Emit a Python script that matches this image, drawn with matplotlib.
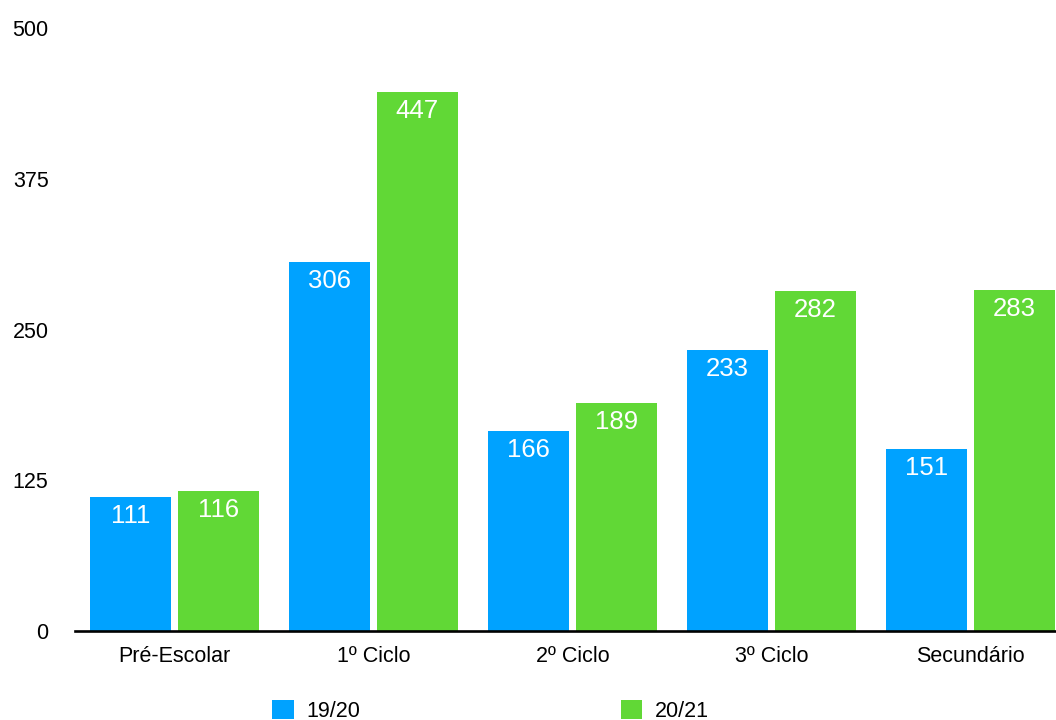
import matplotlib.pyplot as plt
import numpy as np

plt.rcParams['font.family'] = ['Liberation Sans', 'DejaVu Sans']

# categories and series
categories = ['Pré-Escolar', '1º Ciclo', '2º Ciclo', '3º Ciclo', 'Secundário']
y1920 = [111, 306, 166, 233, 151]
y2021 = [116, 447, 189, 282, 283]
y_ticks = [0, 125, 250, 375, 500]

blue = '#00A2FF'
green = '#61D836'

fig = plt.figure(figsize=(10.56, 7.2), dpi=100)
ax = fig.add_axes([75 / 1056, 89 / 720, 1 - 75 / 1056, 603 / 720])

x = np.arange(len(categories))
w = 0.405
b1 = ax.bar(x - 0.22, y1920, w, color=blue, label='19/20')
b2 = ax.bar(x + 0.22, y2021, w, color=green, label='20/21')

# value labels inside the top of each bar
for bars in (b1, b2):
    for rect in bars:
        ax.annotate(str(int(rect.get_height())),
                    (rect.get_x() + rect.get_width() / 2, rect.get_height()),
                    xytext=(0, -5), textcoords='offset points',
                    ha='center', va='top', color='white', fontsize=18.5)

ax.set_xlim(-0.5, -0.5 + 981 / 199)
ax.set_ylim(0, 500)
ax.set_yticks(y_ticks)
ax.set_xticks(x)
ax.set_xticklabels(categories)
ax.tick_params(axis='both', length=0, labelsize=15.5)
ax.tick_params(axis='y', pad=19)
ax.tick_params(axis='x', pad=11)

for s in ['top', 'right', 'left']:
    ax.spines[s].set_visible(False)
ax.spines['bottom'].set_linewidth(1.9)
ax.spines['bottom'].set_color('black')

fig.legend(handles=[b1, b2], loc='upper left',
           bbox_to_anchor=(272 / 1056, 1 - 700 / 720),
           ncol=2, frameon=False, fontsize=15.5, borderpad=0, borderaxespad=0,
           handlelength=1.0, handleheight=1.0, handletextpad=0.6,
           columnspacing=12.1)

fig.savefig('out.png', dpi=100)
